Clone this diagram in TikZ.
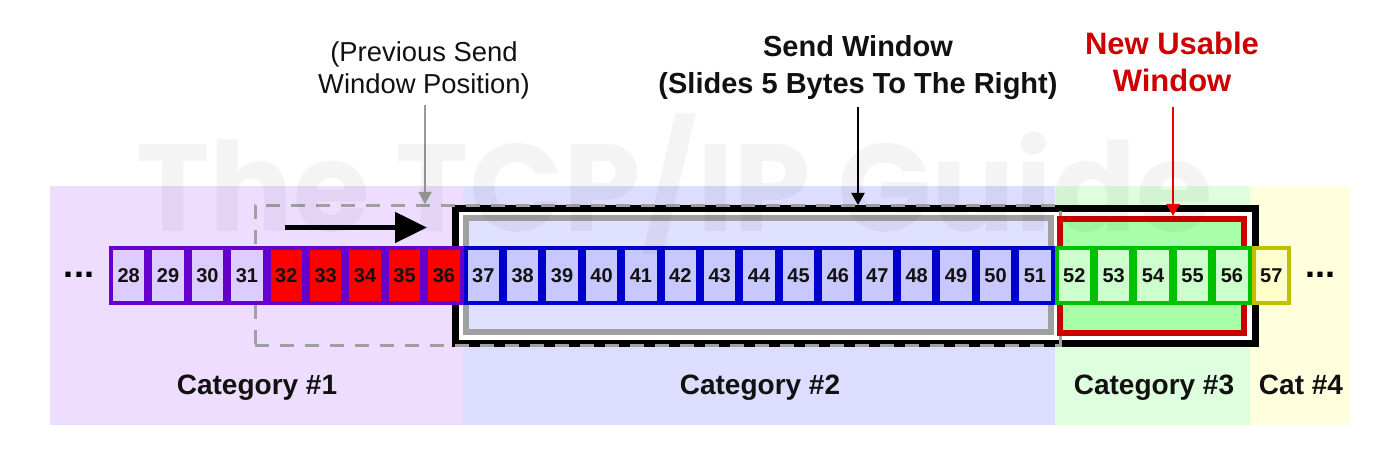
\documentclass[tikz,border=0pt]{standalone}
\usepackage{fontspec}
\setmainfont{Liberation Sans}
\newfontfamily\wmfont{Poppins}
\usetikzlibrary{arrows.meta}
\definecolor{bgA}{HTML}{EEDDFF}
\definecolor{bgB}{HTML}{DDDDFF}
\definecolor{bgC}{HTML}{DDFFDD}
\definecolor{bgD}{HTML}{FFFFDD}
\definecolor{purB}{HTML}{6600CC}
\definecolor{purF}{HTML}{DDCCFF}
\definecolor{redF}{HTML}{FF0000}
\definecolor{bluB}{HTML}{0000CC}
\definecolor{bluF}{HTML}{C8C8FF}
\definecolor{grnB}{HTML}{00C000}
\definecolor{grnF}{HTML}{CCFFCC}
\definecolor{yelB}{HTML}{C0C000}
\definecolor{yelF}{HTML}{FFFFCC}
\definecolor{winGray}{HTML}{A0A0A0}
\definecolor{winGrayF}{HTML}{E0E0FF}
\definecolor{usableR}{HTML}{CC0000}
\definecolor{usableF}{HTML}{A8FFA8}
\definecolor{arrowR}{HTML}{EE0000}
\definecolor{arrowG}{HTML}{999999}
\definecolor{txt}{HTML}{111111}
\begin{document}
\begin{tikzpicture}[x=0.5pt,y=-0.5pt,
  bytecell/.style={draw, line width=2pt, minimum width=17.7pt, minimum height=27.5pt,
    inner sep=0pt, outer sep=0pt, font=\bfseries\fontsize{10}{12}\selectfont, text=txt},
  catlbl/.style={font=\bfseries\fontsize{14}{16}\selectfont, text=txt, anchor=base, inner sep=0pt},
  dots/.style={font=\bfseries\fontsize{18}{20}\selectfont, text=black, inner sep=0pt},
  winbox/.style={inner sep=0pt},
  ptr/.style={line width=1pt, -{Triangle[length=6pt,width=6.5pt]}}
]
\useasboundingbox (0,0) rectangle (1398,458);
% category bands
\fill[bgA] (50,186) rectangle (463,425);
\fill[bgB] (463,186) rectangle (1055,425);
\fill[bgC] (1055,186) rectangle (1250,425);
\fill[bgD] (1250,186) rectangle (1350,425);
% windows
\node[winbox, draw=black, fill=white, line width=3.5pt, minimum width=400pt, minimum height=67.5pt] (sendwin) at (855.5,276) {};
\node[winbox, draw=winGray, dash pattern=on 7pt off 5.5pt, line width=1.5pt, minimum width=402.5pt, minimum height=70pt] (prevwin) at (657.5,275.5) {};
\node[winbox, draw=winGray, fill=winGrayF, line width=3pt, minimum width=292.5pt, minimum height=57pt] (oldwin) at (758.5,275) {};
\node[winbox, draw=usableR, fill=usableF, line width=3pt, minimum width=92pt, minimum height=57pt] (usewin) at (1152,276) {};
% byte cells
\foreach \i in {28,...,31}{\pgfmathsetmacro\cx{128.7+(\i-28)*39.4}
  \node[bytecell, draw=purB, fill=purF] (c\i) at (\cx,275.5) {\i};}
\foreach \i in {32,...,36}{\pgfmathsetmacro\cx{128.7+(\i-28)*39.4}
  \node[bytecell, draw=purB, fill=redF] (c\i) at (\cx,275.5) {\i};}
\foreach \i in {37,...,51}{\pgfmathsetmacro\cx{128.7+(\i-28)*39.4}
  \node[bytecell, draw=bluB, fill=bluF] (c\i) at (\cx,275.5) {\i};}
\foreach \i in {52,...,56}{\pgfmathsetmacro\cx{128.7+(\i-28)*39.4}
  \node[bytecell, draw=grnB, fill=grnF] (c\i) at (\cx,275.5) {\i};}
\foreach \i in {57}{\pgfmathsetmacro\cx{128.7+(\i-28)*39.4}
  \node[bytecell, draw=yelB, fill=yelF] (c\i) at (\cx,275.5) {\i};}
\node[dots] (dl) at (79,275) {...};
\node[dots] (dr) at (1320,275) {...};
% slide arrow
\coordinate (mvS) at (285,227.5);
\coordinate (mvE) at (427,227.5);
\draw[line width=2.5pt, -{Triangle[length=16pt,width=15pt]}] (mvS) -- (mvE);
% labels
\node[font=\fontsize{13.7}{16}\selectfont, text=txt, align=center, inner sep=0pt] (prevlbl) at (424,70) {(Previous Send\\Window Position)};
\node[font=\bfseries\fontsize{14.5}{18.5}\selectfont, text=txt, align=center, inner sep=0pt] (sendlbl) at (858,68) {Send Window\\(Slides 5 Bytes To The Right)};
\node[font=\bfseries\fontsize{15.5}{18.5}\selectfont, text=usableR, align=center, inner sep=0pt] (uselbl) at (1172,62) {New Usable\\Window};
\draw[ptr, draw=arrowG, shorten <=3pt] ([xshift=0.5pt]prevlbl.south) -- ([xshift=0.5pt]prevlbl.south |- prevwin.north);
\draw[ptr, draw=black, shorten <=3.5pt] (sendlbl.south) -- (sendlbl.south |- sendwin.north);
\draw[ptr, draw=arrowR, fill=arrowR, shorten <=7.5pt] ([xshift=0.5pt]uselbl.south) -- ([xshift=0.5pt]uselbl.south |- usewin.north);
% categories
\node[catlbl] (cat1) at (257,395) {Category \#1};
\node[catlbl] (cat2) at (760,395) {Category \#2};
\node[catlbl] (cat3) at (1154,395) {Category \#3};
\node[catlbl] (cat4) at (1301,395) {Cat \#4};
% watermark
\node[font=\wmfont\bfseries\fontsize{62}{62}\selectfont, text=black, text opacity=0.045, anchor=base west, inner sep=0pt] (wm) at (136,232) {\smash{The TCP/IP Guide}};
\end{tikzpicture}
\end{document}
